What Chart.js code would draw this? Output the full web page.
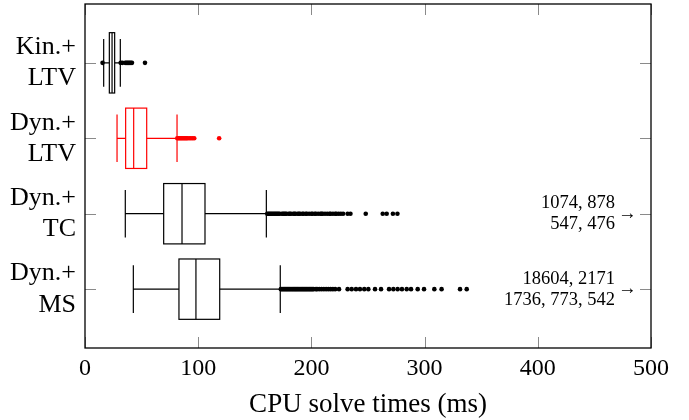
<!DOCTYPE html>
<html>
<head>
<meta charset="utf-8">
<script src="https://cdn.jsdelivr.net/npm/chart.js@4.4.1/dist/chart.umd.min.js"></script>
<style>
  html, body { margin: 0; padding: 0; background: #fff; }
  #wrap { width: 689px; height: 420px; }
</style>
</head>
<body>
<div id="wrap"><canvas id="c"></canvas></div>
<script>
// categories, top to bottom
const CATEGORIES = [['Kin.+', 'LTV'], ['Dyn.+', 'LTV'], ['Dyn.+', 'TC'], ['Dyn.+', 'MS']];
const COLORS = ['#000000', '#ff0000', '#000000', '#000000'];

// box statistics (ms)
const LOWER_WHISKER = [16.5, 28.3, 35.6, 42.7];
const Q1 = [21.5, 35.9, 69.5, 83.0];
const MEDIAN = [23.9, 43.0, 85.7, 98.0];
const Q3 = [26.2, 54.5, 106.0, 119.0];
const UPPER_WHISKER = [31.2, 81.3, 160.2, 172.5];

// outliers (ms)
const OUT_KIN_LTV = [15.5, 31.5, 33, 35.5, 36.5, 37.5, 38.5, 39.5, 40.5, 41.5, 53];
const OUT_DYN_LTV = [81.5, 82.5, 83.5, 84.5, 85.5, 86.5, 87.5, 88.5, 89.5, 90.5, 92, 93.5, 95, 96.5, 118.5];
const OUT_DYN_TC = [161, 162, 163, 164, 165, 166, 167, 168, 169, 170, 171, 172, 174, 175, 176, 177, 178,
  180, 181, 182, 184, 185, 186, 188, 189, 190, 192, 193, 195, 196, 198, 200, 201, 203, 204, 206, 208,
  209, 210, 212, 214, 216, 217, 219, 221, 222, 224, 226, 228, 232, 234.5, 248, 263, 266.5, 272, 276];
const OUT_DYN_MS = [173, 174, 175, 176, 177, 178, 179, 180, 181, 182, 183, 184, 185, 186, 187, 188, 189,
  190, 191, 192, 193, 194, 195, 196, 197, 198, 199, 200, 201, 202, 204, 205, 207, 209, 211, 213, 215,
  217, 219, 221, 224.4, 232, 235.6, 239.4, 242.9, 246.7, 250.3, 256.2, 261.5, 268.6, 272.4, 276.2,
  280, 284.2, 288, 293.9, 299.5, 308.6, 315, 331.3, 337.2];
const OUTLIERS = [OUT_KIN_LTV, OUT_DYN_LTV, OUT_DYN_TC, OUT_DYN_MS];

// points beyond the x range, listed next to the arrow
const OFF_SCALE = [null, null, ['1074, 878', '547, 476'], ['18604, 2171', '1736, 773, 542']];

const X_TICKS = [0, 100, 200, 300, 400, 500];
const X_TITLE = 'CPU solve times (ms)';

const BOX_HALF = 0.4;
const CAP_HALF = 0.316;
const SERIF = '"Liberation Serif", "Times New Roman", serif';

const boxPlot = {
  id: 'boxPlot',
  beforeDatasetsDraw(chart) {
    const { ctx, scales: { x, y } } = chart;
    ctx.save();
    ctx.lineWidth = 1.2;
    CATEGORIES.forEach((_, i) => {
      const yc = y.getPixelForValue(i + 1);
      const bTop = y.getPixelForValue(i + 1 - BOX_HALF);
      const bBot = y.getPixelForValue(i + 1 + BOX_HALF);
      const cTop = y.getPixelForValue(i + 1 - CAP_HALF);
      const cBot = y.getPixelForValue(i + 1 + CAP_HALF);
      const xl = x.getPixelForValue(LOWER_WHISKER[i]);
      const x1 = x.getPixelForValue(Q1[i]);
      const xm = x.getPixelForValue(MEDIAN[i]);
      const x3 = x.getPixelForValue(Q3[i]);
      const xh = x.getPixelForValue(UPPER_WHISKER[i]);
      ctx.strokeStyle = COLORS[i];
      ctx.beginPath();
      ctx.moveTo(xl, yc); ctx.lineTo(x1, yc);
      ctx.moveTo(x3, yc); ctx.lineTo(xh, yc);
      ctx.moveTo(xl, cTop); ctx.lineTo(xl, cBot);
      ctx.moveTo(xh, cTop); ctx.lineTo(xh, cBot);
      ctx.moveTo(xm, bTop); ctx.lineTo(xm, bBot);
      ctx.stroke();
      ctx.strokeRect(x1, bTop, x3 - x1, bBot - bTop);
    });
    ctx.restore();
  },
  afterDraw(chart) {
    const { ctx, chartArea: a, scales: { x, y } } = chart;
    ctx.save();
    // inward tick marks
    ctx.strokeStyle = '#8a8a8a';
    ctx.lineWidth = 1;
    ctx.beginPath();
    X_TICKS.forEach(v => {
      const px = Math.round(x.getPixelForValue(v)) + 0.5;
      ctx.moveTo(px, a.bottom); ctx.lineTo(px, a.bottom - 11);
      ctx.moveTo(px, a.top); ctx.lineTo(px, a.top + 11);
    });
    CATEGORIES.forEach((_, i) => {
      const py = Math.round(y.getPixelForValue(i + 1)) + 0.5;
      ctx.moveTo(a.left, py); ctx.lineTo(a.left + 11, py);
      ctx.moveTo(a.right, py); ctx.lineTo(a.right - 11, py);
    });
    ctx.stroke();
    // frame
    ctx.strokeStyle = '#000';
    ctx.lineWidth = 1.3;
    ctx.strokeRect(a.left, a.top, a.right - a.left, a.bottom - a.top);
    // off-scale notes
    ctx.fillStyle = '#000';
    ctx.textBaseline = 'middle';
    OFF_SCALE.forEach((lines, i) => {
      if (!lines) return;
      const yc = y.getPixelForValue(i + 1);
      ctx.font = '18.5px ' + SERIF;
      ctx.textAlign = 'right';
      ctx.fillText(lines[0], a.right - 36, yc - 10.5);
      ctx.fillText(lines[1], a.right - 36, yc + 10.5);
      ctx.textAlign = 'left';
      ctx.fillText('\u2192', a.right - 33, yc);
    });
    ctx.restore();
  }
};

const datasets = OUTLIERS.map((vals, i) => ({
  label: CATEGORIES[i].join(' '),
  data: vals.map(v => ({ x: v, y: i + 1 })),
  backgroundColor: COLORS[i],
  borderColor: COLORS[i],
  pointRadius: 2.3,
  pointBorderWidth: 0,
}));

new Chart(document.getElementById('c'), {
  type: 'scatter',
  data: { datasets },
  plugins: [boxPlot],
  options: {
    responsive: true,
    maintainAspectRatio: false,
    animation: false,
    layout: { padding: { top: 2, right: 38, left: 0, bottom: 0 } },
    plugins: { legend: { display: false }, tooltip: { enabled: false } },
    scales: {
      x: {
        type: 'linear',
        min: 0,
        max: 500,
        afterBuildTicks: s => { s.ticks = X_TICKS.map(v => ({ value: v })); },
        afterFit: s => { s.height = 72; s.paddingLeft = 0; s.paddingRight = 0; },
        grid: { display: false, drawTicks: false },
        border: { display: false },
        ticks: { color: '#000', padding: 6, maxRotation: 0, font: { family: SERIF, size: 24 } },
        title: {
          display: true,
          text: X_TITLE,
          color: '#000',
          padding: { top: 0, bottom: 0 },
          font: { family: SERIF, size: 27, lineHeight: 1.1 },
        },
      },
      y: {
        type: 'linear',
        reverse: true,
        min: 0.22,
        max: 4.78,
        afterBuildTicks: s => { s.ticks = CATEGORIES.map((_, i) => ({ value: i + 1 })); },
        afterFit: s => { s.width = 85; s.paddingTop = 0; s.paddingBottom = 0; },
        grid: { display: false, drawTicks: false },
        border: { display: false },
        ticks: {
          color: '#000',
          padding: 9,
          font: { family: SERIF, size: 26, lineHeight: 1.2 },
          callback: v => CATEGORIES[v - 1],
        },
      },
    },
  },
});
</script>
</body>
</html>
